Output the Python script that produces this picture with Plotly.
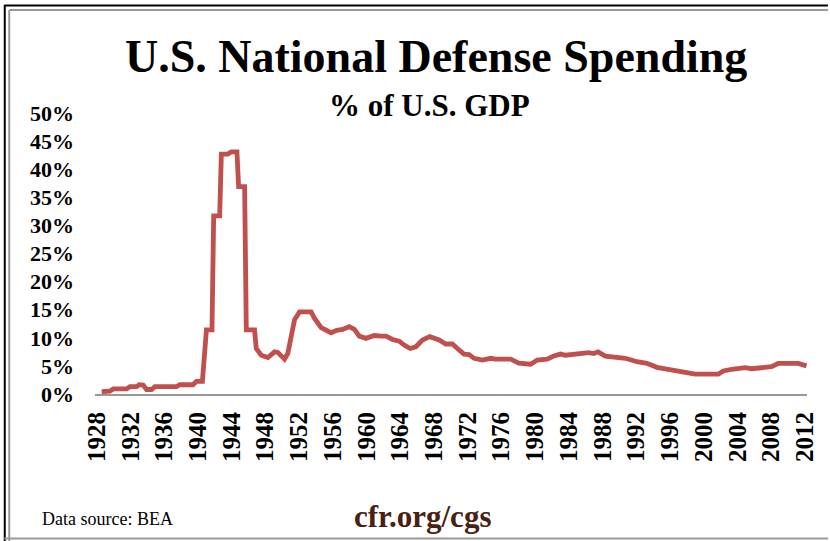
import plotly.graph_objects as go

# defense spending, % of GDP
years = [1928.58, 1929.56, 1929.95, 1931.54, 1931.93, 1932.72, 1933.03, 1933.50, 1933.91, 1934.50,
         1934.89, 1937.46, 1937.85, 1939.42, 1939.82, 1940.53, 1941.01, 1941.67, 1941.87, 1942.58,
         1942.78, 1943.56, 1943.96, 1944.63, 1944.83, 1945.54, 1945.74, 1946.72, 1946.92, 1947.51,
         1948.30, 1949.09, 1949.48, 1950.27, 1950.66, 1951.46, 1952.05, 1953.43, 1953.82, 1954.62,
         1955.80, 1956.39, 1957.17, 1957.96, 1958.56, 1959.15, 1959.94, 1960.92, 1961.72, 1962.31,
         1963.09, 1963.88, 1964.47, 1965.18, 1965.86, 1966.64, 1967.51, 1968.62, 1969.41, 1970.19,
         1970.78, 1971.57, 1972.17, 1972.76, 1973.74, 1974.73, 1975.33, 1977.10, 1978.08, 1979.47,
         1980.25, 1981.43, 1982.22, 1983.02, 1983.61, 1984.39, 1985.38, 1986.37, 1986.96, 1987.47,
         1988.34, 1989.33, 1990.71, 1992.09, 1993.27, 1994.45, 1995.64, 1996.82, 1998.01, 1998.99,
         2001.75, 2002.34, 2003.33, 2004.91, 2005.70, 2007.28, 2008.06, 2008.86, 2011.22, 2012.20]
share = [0.4, 0.5, 0.9, 0.9, 1.3, 1.3, 1.65, 1.6, 0.8, 0.8,
         1.3, 1.3, 1.65, 1.65, 2.25, 2.25, 11.4, 11.4, 31.7, 31.7,
         42.7, 42.7, 43.1, 43.1, 36.9, 36.9, 11.4, 11.4, 8.1, 6.9,
         6.5, 7.5, 7.4, 6.2, 7.2, 13.2, 14.6, 14.6, 13.5, 11.8,
         10.9, 11.3, 11.5, 12.0, 11.5, 10.3, 9.9, 10.4, 10.3, 10.3,
         9.7, 9.4, 8.7, 8.1, 8.4, 9.6, 10.2, 9.6, 8.9, 8.9,
         8.1, 7.1, 7.0, 6.35, 6.05, 6.35, 6.2, 6.2, 5.5, 5.3,
         6.05, 6.2, 6.75, 7.1, 6.9, 7.05, 7.35, 7.35, 7.2, 7.5,
         6.75, 6.5, 6.35, 5.75, 5.45, 4.75, 4.45, 4.1, 3.8, 3.55,
         3.55, 4.1, 4.4, 4.7, 4.5, 4.6, 4.85, 5.45, 5.45, 5.0]

tick_years = list(range(1928, 2013, 4))
y_ticks = [0, 5, 10, 15, 20, 25, 30, 35, 40, 45, 50]

SERIF = 'Liberation Serif'

fig = go.Figure()
fig.add_trace(go.Scatter(
    x=years, y=share, mode='lines',
    line=dict(color='#C0504D', width=4.8),
    hoverinfo='skip',
))

fig.update_xaxes(
    range=[1927.79, 2012.26], tickvals=tick_years, ticktext=[str(t) for t in tick_years],
    tickangle=-90, showgrid=False, zeroline=False,
    showline=True, linecolor='#999999', linewidth=2, ticks='',
    ticklabelstandoff=6,
    tickfont=dict(family=SERIF, size=25, color='black', weight='bold'),
)
fig.update_yaxes(
    range=[0, 50], tickvals=y_ticks, ticktext=[f'{v}%' for v in y_ticks],
    showgrid=False, zeroline=False, showline=False, ticks='',
    ticklabelstandoff=20,
    tickfont=dict(family=SERIF, size=22, color='black', weight='bold'),
)

# frame lines (paper coords, plot area 95..809 x 113..394 px)
def px(x):
    return (x - 95) / 714


def py(y):
    return (394 - y) / 281


shapes = [
    dict(type='line', x0=px(4), x1=px(830), y0=py(5.5), y1=py(5.5), line=dict(color='black', width=2)),
    dict(type='line', x0=px(4.5), x1=px(4.5), y0=py(5), y1=py(541), line=dict(color='black', width=2)),
    dict(type='line', x0=px(9), x1=px(830), y0=py(10), y1=py(10), line=dict(color='#999999', width=2)),
    dict(type='line', x0=px(9), x1=px(9), y0=py(10), y1=py(541), line=dict(color='#999999', width=2)),
    dict(type='line', x0=px(4), x1=px(830), y0=py(538.5), y1=py(538.5), line=dict(color='#999999', width=2)),
]
for s in shapes:
    s.update(xref='paper', yref='paper')

annotations = [
    dict(text='<b>U.S. National Defense Spending</b>', x=px(437), y=py(57),
         font=dict(family=SERIF, size=46, color='black')),
    dict(text='<b>% of U.S. GDP</b>', x=px(430), y=py(106),
         font=dict(family=SERIF, size=31, color='black')),
    dict(text='Data source: BEA', x=px(40), y=py(519), xanchor='left',
         font=dict(family=SERIF, size=18, color='black')),
    dict(text='<b>cfr.org/cgs</b>', x=px(423), y=py(516),
         font=dict(family=SERIF, size=31, color='#4a2010')),
]
for a in annotations:
    a.update(xref='paper', yref='paper', showarrow=False)
    a.setdefault('xanchor', 'center')
    a.setdefault('yanchor', 'middle')

fig.update_layout(
    width=830, height=541,
    margin=dict(l=95, r=21, t=113, b=147),
    paper_bgcolor='white', plot_bgcolor='white',
    showlegend=False,
    shapes=shapes, annotations=annotations,
)

fig.write_html('out.html', config={'displayModeBar': False},
               post_script="document.body.style.margin='0';")
